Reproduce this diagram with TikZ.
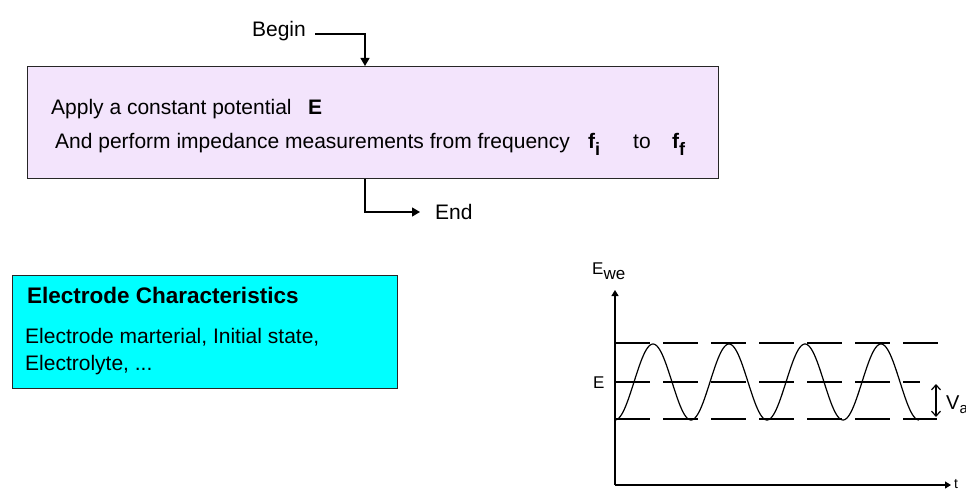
\documentclass[tikz,border=0pt]{standalone}
\usepackage{fontspec}
\setmainfont{Liberation Sans}
\usetikzlibrary{arrows.meta}
\definecolor{procfill}{HTML}{F3E4FC}
\definecolor{cyanfill}{HTML}{00FFFF}
\begin{document}
\begin{tikzpicture}[x=1pt,y=-1pt,
  conn/.style={line width=1.3pt,-{Triangle[width=9pt,length=8pt]}},
  box/.style={draw=black!85,line width=1.4pt,inner sep=0pt,anchor=north west},
  txt/.style={inner sep=0pt,anchor=base west,font=\fontsize{21}{25}\selectfont},
  btxt/.style={txt,font=\fontsize{21}{25}\selectfont\bfseries},
  gtxt/.style={inner sep=0pt,anchor=base west,font=\fontsize{17}{19}\selectfont},
  axis/.style={line width=1.2pt,-{Triangle[width=7pt,length=6pt]}},
  guide/.style={line width=1.2pt,dash pattern=on 35pt off 13pt},
]
\useasboundingbox (0,0) rectangle (966,492);

% flow chart
\node[txt,anchor=base east] (begin) at (306,37) {Begin};
\coordinate (bstart) at (315,34);
\coordinate (bturn) at (365,34);
\node[box,fill=procfill,minimum width=691pt,minimum height=112pt] (proc) at (27,66) {};
\draw[conn] (bstart) -- (bturn) -- (bturn |- proc.north);

\node[txt] (l1) at (51,115) {Apply a constant potential};
\node[btxt] (E) at (308,115) {E};
\node[txt] (l2) at (55,149) {And perform impedance measurements from frequency};
\node[btxt] (fi) at (588,149) {f\raisebox{-6pt}{\fontsize{18}{18}\selectfont i}};
\node[txt] (to) at (633,149) {to};
\node[btxt] (ff) at (672,149) {f\raisebox{-6pt}{\fontsize{18}{18}\selectfont f}};

\node[txt] (end) at (435,219) {End};
\coordinate (eturn) at (365,212);
\draw[conn] (eturn |- proc.south) -- (eturn) -- ([xshift=-15pt]end.west |- eturn);

% electrode box
\node[box,fill=cyanfill,minimum width=385pt,minimum height=113pt] (elec) at (12,275) {};
\node[txt,font=\fontsize{22.5}{25}\selectfont\bfseries] (et) at (27,303) {Electrode Characteristics};
\node[txt] (e1) at (25,343) {Electrode marterial, Initial state,};
\node[txt] (e2) at (25,370) {Electrolyte, ...};

% graph
\coordinate (o) at (615,485);
\coordinate (ytop) at (615,290);
\coordinate (xend) at (951,485);
\draw[axis] (o) -- (ytop);
\draw[axis] (o) -- (xend);
\node[gtxt] (ewe) at (592,274) {E\raisebox{-5pt}{we}};
\node[gtxt,font=\fontsize{14}{16}\selectfont] (t) at (954,488) {t};
\node[gtxt] (elab) at (593,388) {E};

\draw[guide] (615,343) -- (938,343);
\draw[guide] (615,382) -- (920,382);
\draw[guide] (615,419) -- (913,419);
\draw[line width=1.2pt] (913,419) -- (937,419);
\draw[line width=1.2pt] plot[domain=0:304,samples=240,smooth] ({615+\x},{382+38*cos(4.7368*\x)});

\coordinate (va1) at (936,384);
\coordinate (va2) at (936,417);
\draw[line width=1.2pt,{Straight Barb[length=5pt,width=9pt]}-{Straight Barb[length=5pt,width=9pt]}] (va1) -- (va2);
\node[gtxt,font=\fontsize{20}{22}\selectfont] (va) at (946,409) {V\raisebox{-4pt}{\fontsize{15}{15}\selectfont a}};
\end{tikzpicture}
\end{document}
